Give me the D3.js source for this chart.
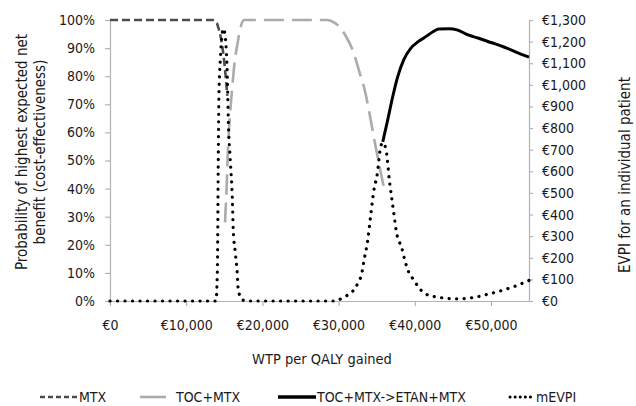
<!DOCTYPE html>
<html>
<head>
<meta charset="utf-8">
<script src="https://cdn.jsdelivr.net/npm/d3@7"></script>
<style>
  html, body { margin: 0; padding: 0; background: #fff; }
  svg { display: block; }
  text { font-family: 'DejaVu Sans Condensed', 'DejaVu Sans', sans-serif; fill: #1a1a1a; }
</style>
</head>
<body>
<svg id="chart" width="636" height="406"></svg>
<script>
// Willingness-to-pay ticks and axis ticks
const wtpTicks = [0, 10000, 20000, 30000, 40000, 50000];
const probTicks = [0, 0.1, 0.2, 0.3, 0.4, 0.5, 0.6, 0.7, 0.8, 0.9, 1.0];
const evpiTicks = [0, 100, 200, 300, 400, 500, 600, 700, 800, 900, 1000, 1100, 1200, 1300];

// Cost-effectiveness acceptability frontier: [WTP, probability]
const mtx = [
  [0, 1.0], [13500, 1.0], [14000, 0.99], [14200, 0.975], [14600, 0.93],
  [15000, 0.85], [15400, 0.73]
];
const tocMtx = [
  [15100, 0.28], [15300, 0.40], [15500, 0.55], [15800, 0.68], [16050, 0.76],
  [16400, 0.86], [16700, 0.91], [17100, 0.97], [17600, 1.0], [28500, 1.0],
  [29500, 0.99], [30300, 0.97], [30900, 0.945], [31800, 0.897], [32900, 0.80],
  [33300, 0.765], [34200, 0.648], [34600, 0.587], [35300, 0.49], [35900, 0.41]
];
const tocEtan = [
  [35800, 0.566], [36450, 0.644], [37100, 0.726], [37750, 0.797], [38550, 0.858],
  [39500, 0.90], [40400, 0.922], [41200, 0.936], [42500, 0.96], [43150, 0.968],
  [44500, 0.969], [45650, 0.964], [47000, 0.947], [48300, 0.936], [50000, 0.92],
  [51700, 0.904], [53300, 0.886], [55000, 0.868]
];
// Expected value of perfect information per patient: [WTP, euro]
const mEvpi = [
  [0, 0], [13900, 0], [14100, 150], [14200, 600], [14300, 950], [14500, 1130],
  [14700, 1230], [14900, 1260], [15130, 1220], [15400, 1036], [15530, 837],
  [15790, 652], [16050, 481], [16180, 328], [16450, 222], [16700, 130],
  [16840, 51], [17370, 5], [18000, 0], [29500, 0], [30000, 5], [30700, 18],
  [31600, 37], [32200, 60], [32600, 88], [33000, 120], [33400, 199], [33800, 273],
  [34200, 389], [34600, 504], [35100, 592], [35500, 708], [35800, 732],
  [36200, 706], [36700, 550], [37200, 420], [37600, 319], [38300, 245],
  [38800, 176], [39200, 134], [39700, 106], [40300, 74], [40800, 51], [41700, 28],
  [43000, 18], [44000, 13], [45000, 10], [46000, 10], [47000, 13], [48000, 18],
  [49000, 26], [50000, 35], [51000, 44], [52000, 55], [53000, 66], [54000, 80],
  [55000, 95]
];

const legendLabels = ["MTX", "TOC+MTX", "TOC+MTX->ETAN+MTX", "mEVPI"];

const svg = d3.select("#chart");
const plot = { left: 110, right: 529, top: 20, bottom: 301 };

const x = d3.scaleLinear().domain([0, 55000]).range([plot.left, plot.right]);
const yProb = d3.scaleLinear().domain([0, 1]).range([plot.bottom, plot.top]);
const yEvpi = d3.scaleLinear().domain([0, 1300]).range([plot.bottom, plot.top]);

const euro = d3.formatLocale({ decimal: ".", thousands: ",", grouping: [3], currency: ["€", ""] }).format("$,.0f");
const pct = d3.format(".0%");

const axisColor = "#b3b3b3";
function styleAxis(g) {
  g.select(".domain").attr("stroke", axisColor).attr("stroke-width", 1.2);
  g.selectAll(".tick line").attr("stroke", axisColor).attr("stroke-width", 1.2);
  g.selectAll(".tick text").attr("font-size", 14).attr("fill", "#1a1a1a")
    .style("font-family", "'DejaVu Sans Condensed', 'DejaVu Sans', sans-serif");
}

// X axis
svg.append("g")
  .attr("transform", `translate(0,${plot.bottom})`)
  .call(d3.axisBottom(x).tickValues(wtpTicks).tickFormat(euro).tickSize(5).tickPadding(14).tickSizeOuter(0))
  .call(styleAxis);

// Left axis
svg.append("g")
  .attr("transform", `translate(${plot.left},0)`)
  .call(d3.axisLeft(yProb).tickValues(probTicks).tickFormat(pct).tickSize(5).tickPadding(10).tickSizeOuter(0))
  .call(styleAxis);

// Right axis
svg.append("g")
  .attr("transform", `translate(${plot.right},0)`)
  .call(d3.axisRight(yEvpi).tickValues(evpiTicks).tickFormat(euro).tickSize(4).tickPadding(9).tickSizeOuter(0))
  .call(styleAxis);

const probLine = d3.line().x(d => x(d[0])).y(d => yProb(d[1])).curve(d3.curveMonotoneX);
const evpiLine = d3.line().x(d => x(d[0])).y(d => yEvpi(d[1])).curve(d3.curveMonotoneX);

const styles = [
  { stroke: "#4d4d4d", width: 2.6, dash: "8,4", cap: "butt" },
  { stroke: "#ababab", width: 2.6, dash: "20,8", cap: "butt" },
  { stroke: "#000000", width: 3, dash: null, cap: "butt" },
  { stroke: "#000000", width: 3.2, dash: "0.1,7.4", cap: "round" }
];

function drawSeries(data, gen, s) {
  svg.append("path")
    .datum(data)
    .attr("d", gen)
    .attr("fill", "none")
    .attr("stroke", s.stroke)
    .attr("stroke-width", s.width)
    .attr("stroke-dasharray", s.dash)
    .attr("stroke-linecap", s.cap)
    .attr("stroke-linejoin", "round");
}

drawSeries(mtx, probLine, styles[0]);
drawSeries(tocMtx, probLine, styles[1]);
drawSeries(tocEtan, probLine, styles[2]);
drawSeries(mEvpi, evpiLine, styles[3]);

// Axis titles
svg.append("text")
  .attr("transform", "translate(27,152) rotate(-90)")
  .attr("text-anchor", "middle").attr("font-size", 15)
  .text("Probability of highest expected net");
svg.append("text")
  .attr("transform", "translate(45,152) rotate(-90)")
  .attr("text-anchor", "middle").attr("font-size", 15)
  .text("benefit (cost-effectiveness)");
svg.append("text")
  .attr("transform", "translate(630,175) rotate(-90)")
  .attr("text-anchor", "middle").attr("font-size", 15)
  .text("EVPI for an individual patient");
svg.append("text")
  .attr("x", 322).attr("y", 364)
  .attr("text-anchor", "middle").attr("font-size", 14.5)
  .text("WTP per QALY gained");

// Legend
const legendItems = [
  { x: 40, lineW: 38, style: { stroke: "#4d4d4d", width: 2.6, dash: "5,3" } },
  { x: 140, lineW: 26, style: { stroke: "#ababab", width: 2.6, dash: null } },
  { x: 278, lineW: 38, style: { stroke: "#000000", width: 3.4, dash: null } },
  { x: 510, lineW: 25, style: { stroke: "#000000", width: 3, dash: "0.1,5", cap: "round" } }
];
const legendY = 397;
legendItems.forEach((item, i) => {
  svg.append("line")
    .attr("x1", item.x).attr("x2", item.x + item.lineW)
    .attr("y1", legendY).attr("y2", legendY)
    .attr("stroke", item.style.stroke)
    .attr("stroke-width", item.style.width)
    .attr("stroke-dasharray", item.style.dash)
    .attr("stroke-linecap", item.style.cap || "butt");
  svg.append("text")
    .attr("x", item.x + item.lineW + (i === 0 || i === 2 || i === 3 ? 1 : 10))
    .attr("y", legendY + 5)
    .attr("font-size", 14)
    .text(legendLabels[i]);
});
</script>
</body>
</html>
